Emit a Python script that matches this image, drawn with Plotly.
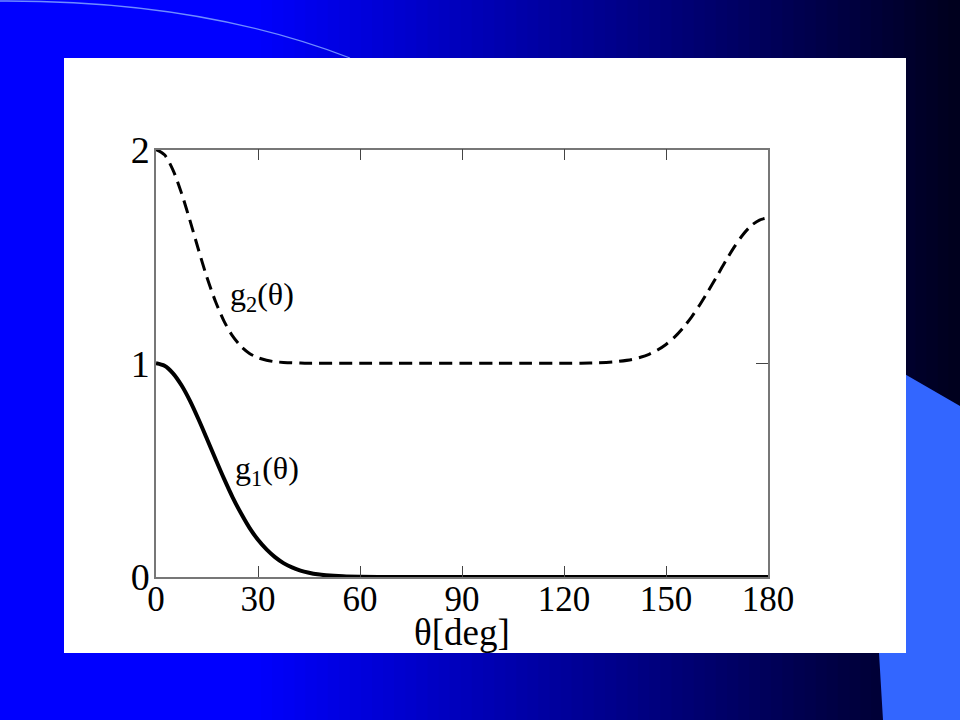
import plotly.graph_objects as go

# ---- data ----
theta = [0, 2.5, 5, 7.5, 10, 12.5, 15, 17.5, 20, 22.5, 25, 27.5, 30, 32.5, 35,
         37.5, 40, 42.5, 45, 47.5, 50, 55, 60, 70, 80, 90, 100, 110, 120, 125,
         130, 135, 140, 142.5, 145, 147.5, 150, 152.5, 155, 157.5, 160, 162.5,
         165, 167.5, 170, 172.5, 175, 177.5, 180]
g1 = [1.0, 0.988, 0.953, 0.897, 0.824, 0.738, 0.646, 0.552, 0.460, 0.374, 0.298,
      0.230, 0.174, 0.129, 0.093, 0.065, 0.045, 0.030, 0.020, 0.0125, 0.008,
      0.003, 0.001, 0.0, 0.0, 0.0, 0.0, 0.0, 0.0, 0.0, 0.0, 0.0, 0.0, 0.0, 0.0,
      0.0, 0.0, 0.0, 0.0, 0.0, 0.0, 0.0, 0.0, 0.0, 0.0, 0.0, 0.0, 0.0, 0.0]
g2 = [2.0, 1.975, 1.904, 1.796, 1.667, 1.531, 1.401, 1.289, 1.197, 1.128, 1.079,
      1.046, 1.026, 1.014, 1.007, 1.004, 1.002, 1.001, 1.0, 1.0, 1.0, 1.0, 1.0,
      1.0, 1.0, 1.0, 1.0, 1.0, 1.0, 1.0005, 1.002, 1.007, 1.018, 1.028, 1.042,
      1.062, 1.088, 1.122, 1.165, 1.216, 1.275, 1.340, 1.408, 1.477, 1.542,
      1.599, 1.643, 1.670, 1.68]
x_ticks = [0, 30, 60, 90, 120, 150, 180]
y_ticks = [0, 1, 2]
x_title = "θ[deg]"

SERIF = "Liberation Serif, Times New Roman, serif"
W, H = 960, 720


def fx(px):
    return px / W


def fy(py):
    return 1 - py / H


def path(points, close=False):
    s = "M " + " L ".join(f"{fx(x):.5f},{fy(y):.5f}" for x, y in points)
    return s + (" Z" if close else "")


fig = go.Figure()
fig.add_trace(go.Scatter(x=theta, y=g2, mode="lines", line_shape="spline",
                         line=dict(color="black", width=3, dash="13px,7px",
                                   smoothing=0.8),
                         showlegend=False, hoverinfo="skip"))
fig.add_trace(go.Scatter(x=theta, y=g1, mode="lines", line_shape="spline",
                         line=dict(color="black", width=4, smoothing=0.8),
                         showlegend=False, hoverinfo="skip"))
# helper trace so the right-side tick axis exists
fig.add_trace(go.Scatter(x=[0, 180], y=[0, 2], yaxis="y3", mode="lines",
                         line=dict(color="rgba(0,0,0,0)", width=0),
                         showlegend=False, hoverinfo="skip"))

shapes = []
# background gradient
shapes.append(dict(type="rect", xref="paper", yref="paper", x0=0, x1=fx(252),
                   y0=0, y1=1, fillcolor="#0000FF", line_width=0, layer="below"))
n = 64
x_start, x_end = 250, 960
for i in range(n):
    a = x_start + (x_end - x_start) * i / n
    b = min(x_start + (x_end - x_start) * (i + 1) / n + 0.8, W)
    f = (i + 0.5) / n
    bl = int(round(255 - f * (255 - 28)))
    shapes.append(dict(type="rect", xref="paper", yref="paper", x0=fx(a), x1=fx(b),
                       y0=0, y1=1, fillcolor=f"rgb(0,0,{bl})", line_width=0,
                       layer="below"))
# thin arc at top-left (quadratic bezier)
arc = (f"M {fx(0):.5f},{fy(1):.5f} Q {fx(200):.5f},{fy(0):.5f} "
       f"{fx(350):.5f},{fy(58):.5f}")
shapes.append(dict(type="path", xref="paper", yref="paper", path=arc,
                   line=dict(color="#6f8cff", width=1.3), layer="below"))
# light blue decoration on the right
shapes.append(dict(type="path", xref="paper", yref="paper",
                   path=path([(870, 354), (960, 406), (960, 720), (883, 720),
                              (879, 653), (870, 653)], close=True),
                   fillcolor="#3366FF", line_width=0, layer="below"))
# white panel
shapes.append(dict(type="rect", xref="paper", yref="paper", x0=fx(64), x1=fx(906),
                   y0=fy(653), y1=fy(58), fillcolor="white", line_width=0,
                   layer="below"))

fig.update_layout(
    width=W, height=H, autosize=False,
    margin=dict(l=0, r=0, t=0, b=0, pad=0, autoexpand=False),
    paper_bgcolor="#0000FF",
    plot_bgcolor="rgba(0,0,0,0)",
    shapes=shapes,
    xaxis=dict(domain=[fx(156), fx(768)], range=[0, 180], tickvals=x_ticks,
               ticks="inside", ticklen=11, tickwidth=1.3, tickcolor="#444",
               showline=True, linecolor="#777", linewidth=1.5, mirror="ticks",
               showgrid=False, zeroline=False, automargin=False,
               ticklabelstandoff=-10,
               tickfont=dict(family=SERIF, size=35, color="black")),
    yaxis=dict(domain=[fy(577), fy(149.5)], range=[0, 2], tickvals=y_ticks,
               ticks="", showline=True, linecolor="#777", linewidth=1.5, mirror=True,
               showgrid=False, zeroline=False, ticklabelstandoff=-3, automargin=False,
               tickfont=dict(family=SERIF, size=38, color="black")),
    yaxis3=dict(overlaying="y", side="right", anchor="x", range=[0, 2],
                tickvals=y_ticks, ticks="inside", ticklen=12, tickwidth=1.3,
                tickcolor="#444", showticklabels=False, showgrid=False,
                zeroline=False, showline=False, automargin=False),
    annotations=[
        dict(x=21.3, y=1.31, xref="x", yref="y", text="g<sub>2</sub>(θ)",
             showarrow=False, xanchor="left", yanchor="middle",
             font=dict(family=SERIF, size=32, color="black")),
        dict(x=22.6, y=0.50, xref="x", yref="y", text="g<sub>1</sub>(θ)",
             showarrow=False, xanchor="left", yanchor="middle",
             font=dict(family=SERIF, size=32, color="black")),
        dict(x=fx(462), y=fy(632), xref="paper", yref="paper", text=x_title,
             showarrow=False, xanchor="center", yanchor="middle",
             font=dict(family=SERIF, size=37, color="black")),
    ],
)

fig.write_html(
    "out.html",
    config={"displayModeBar": False},
    post_script="document.body.style.margin='0';document.body.style.padding='0';"
                "document.body.style.overflow='hidden';",
)
